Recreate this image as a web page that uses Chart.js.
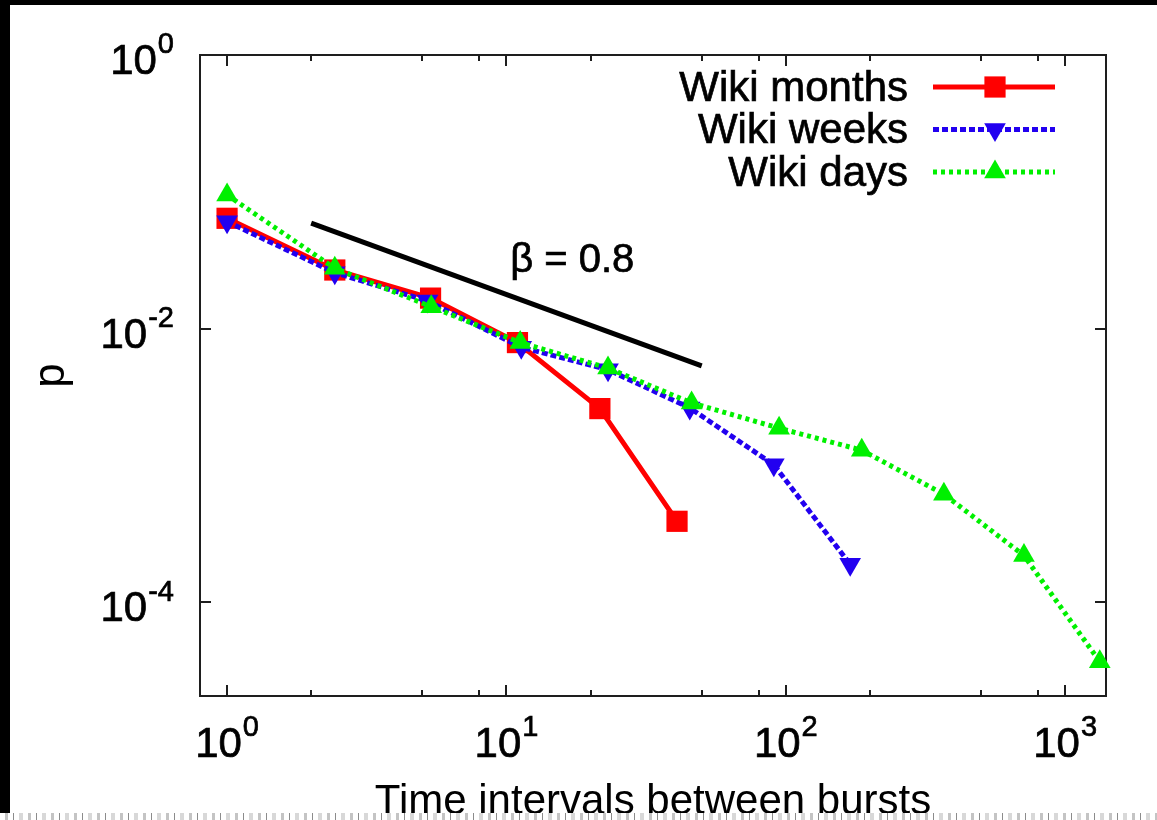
<!DOCTYPE html>
<html>
<head>
<meta charset="utf-8">
<title>Time intervals between bursts</title>
<script src="https://cdn.jsdelivr.net/npm/chart.js@4.4.1/dist/chart.umd.min.js"></script>
<style>
  html, body { margin: 0; padding: 0; background: #000; width: 1157px; height: 820px; overflow: hidden; }
  #frame { position: absolute; left: 10px; top: 5px; width: 1147px; height: 815px; background: #fff; overflow: hidden; }
  #frame canvas { display: block; }
  #scan {
    position: absolute; left: 0; top: 813px; width: 1157px; height: 7px;
    background: repeating-linear-gradient(90deg, #fff 0 5px, #c4c4c4 5px 8px, #fff 8px 13px, #8c8c8c 13px 14px, #fff 14px 19px, #d8d8d8 19px 23px);
  }
</style>
</head>
<body>
<div id="frame"><canvas id="burstChart" width="1147" height="840"></canvas></div>
<div id="scan"></div>
<script>
// Values (log-log plot)
const monthsX = [1, 2.43, 5.35, 10.95, 21.6, 40.8];
const monthsP = [0.064, 0.0268, 0.0167, 0.0079, 0.0026, 0.00039];

const weeksX = [1, 2.43, 5.22, 11.3, 23.1, 45.3, 90.6, 170];
const weeksP = [0.0605, 0.0256, 0.0159, 0.0073, 0.005, 0.00263, 0.00101, 0.000189];

const daysX = [1, 2.43, 5.38, 11.2, 23.1, 46, 94.6, 187, 368, 712, 1330];
const daysP = [0.0947, 0.0276, 0.01445, 0.0079, 0.00514, 0.00286, 0.00187, 0.00129, 0.000615, 0.000219, 0.0000367];

// reference slope line
const slopeX = [2, 50];
const slopeP = [0.0591, 0.00533];
const slopeText = "\u03b2 = 0.8";
const slopeTextAt = [17.2, 0.0328];

const seriesLabels = ["Wiki months", "Wiki weeks", "Wiki days"];

const xMajorTicks = [1, 10, 100, 1000];
const xMajorExp = ["0", "1", "2", "3"];
const xMinorTicks = [2, 5, 8, 20, 50, 80, 200, 500, 800];
const yMajorTicks = [1e-4, 1e-2, 1];
const yMajorExp = ["-4", "-2", "0"];

document.addEventListener("DOMContentLoaded", function () {
  const colors = {
    red: "#ff0000",
    blue: "#2200f0",
    green: "#00f000",
    black: "#000000",
    axis: "#1e1e1e",
  };
  const fontFamily = "'Liberation Sans', Arial, Helvetica, sans-serif";

  function toPoints(xs, ys) {
    return xs.map((x, i) => ({ x: x, y: ys[i] }));
  }

  // slightly heavier text, like the scanned gnuplot output
  function heavyText(ctx, text, x, y) {
    ctx.fillText(text, x, y);
    ctx.lineWidth = 0.7;
    ctx.strokeStyle = ctx.fillStyle;
    ctx.strokeText(text, x, y);
  }

  // "10" with a raised exponent, like gnuplot's enhanced text
  function drawPower(ctx, exp, x, midY, align) {
    const baseSize = 42, supSize = 29;
    ctx.font = baseSize + "px " + fontFamily;
    const wBase = ctx.measureText("10").width;
    ctx.font = supSize + "px " + fontFamily;
    const wExp = ctx.measureText(exp).width;
    const total = wBase + wExp + 1;
    const left = align === "center" ? x - total / 2 : x - total;
    ctx.textAlign = "left";
    ctx.textBaseline = "alphabetic";
    ctx.font = baseSize + "px " + fontFamily;
    heavyText(ctx, "10", left, midY + 0.358 * baseSize);
    ctx.font = supSize + "px " + fontFamily;
    heavyText(ctx, exp, left + wBase + 1, midY - 16 + 0.358 * supSize);
  }

  function drawMarker(ctx, style, rotation, r, x, y, color) {
    ctx.fillStyle = color;
    ctx.beginPath();
    if (style === "rect") {
      const h = r * Math.SQRT1_2;
      ctx.rect(x - h, y - h, 2 * h, 2 * h);
    } else {
      let rad = (rotation || 0) * Math.PI / 180;
      for (let k = 0; k < 3; k++) {
        const px = x + Math.sin(rad) * r;
        const py = y - Math.cos(rad) * r;
        if (k === 0) ctx.moveTo(px, py); else ctx.lineTo(px, py);
        rad += 2 * Math.PI / 3;
      }
      ctx.closePath();
    }
    ctx.fill();
  }

  const gnuplotFrame = {
    id: "gnuplotFrame",
    beforeDatasetsDraw(chart) {
      const { ctx, chartArea: a, scales: { x, y } } = chart;
      ctx.save();
      ctx.strokeStyle = colors.axis;
      ctx.lineWidth = 2;
      ctx.strokeRect(a.left, a.top, a.right - a.left, a.bottom - a.top);
      ctx.beginPath();
      x.ticks.forEach((t) => {
        const px = Math.round(x.getPixelForValue(t.value));
        const len = t.major ? 11 : 6;
        ctx.moveTo(px, a.bottom);
        ctx.lineTo(px, a.bottom - len);
        ctx.moveTo(px, a.top);
        ctx.lineTo(px, a.top + len);
      });
      y.ticks.forEach((t) => {
        const py = Math.round(y.getPixelForValue(t.value));
        ctx.moveTo(a.left, py);
        ctx.lineTo(a.left + 11, py);
        ctx.moveTo(a.right, py);
        ctx.lineTo(a.right - 11, py);
      });
      ctx.stroke();
      ctx.restore();
    },
    afterDraw(chart) {
      const { ctx, chartArea: a, scales: { x, y } } = chart;
      ctx.save();
      ctx.fillStyle = "#000";

      // tick labels
      xMajorTicks.forEach((v, i) => {
        drawPower(ctx, xMajorExp[i], x.getPixelForValue(v), a.bottom + 46, "center");
      });
      yMajorTicks.forEach((v, i) => {
        drawPower(ctx, yMajorExp[i], a.left - 26, y.getPixelForValue(v) + 4, "right");
      });

      // slope annotation
      ctx.font = "40px " + fontFamily;
      ctx.textAlign = "center";
      ctx.textBaseline = "alphabetic";
      heavyText(ctx, slopeText, x.getPixelForValue(slopeTextAt[0]), y.getPixelForValue(slopeTextAt[1]) + 0.358 * 40);

      // legend: text on the left, sample on the right
      const textRight = 898, lineStart = 923, lineEnd = 1045, markX = 985;
      chart.data.datasets.slice(0, 3).forEach((ds, i) => {
        const rowY = a.top + 32 + i * 42.5;
        ctx.fillStyle = "#000";
        ctx.font = "42px " + fontFamily;
        ctx.textAlign = "right";
        heavyText(ctx, ds.label, textRight, rowY - 1.5 + 0.358 * 42);
        ctx.strokeStyle = ds.borderColor;
        ctx.lineWidth = ds.borderWidth;
        ctx.setLineDash(ds.borderDash || []);
        ctx.beginPath();
        ctx.moveTo(lineStart, rowY);
        ctx.lineTo(lineEnd, rowY);
        ctx.stroke();
        ctx.setLineDash([]);
        drawMarker(ctx, ds.pointStyle, ds.pointRotation, ds.pointRadius, markX, rowY, ds.borderColor);
      });
      ctx.restore();
    },
  };

  const ctx = document.getElementById("burstChart");

  new Chart(ctx, {
    type: "line",
    data: {
      datasets: [
        {
          label: seriesLabels[0],
          data: toPoints(monthsX, monthsP),
          borderColor: colors.red,
          backgroundColor: colors.red,
          borderWidth: 5,
          pointStyle: "rect",
          pointRadius: 15,
          pointBorderWidth: 0,
          order: 3,
          clip: false,
        },
        {
          label: seriesLabels[1],
          data: toPoints(weeksX, weeksP),
          borderColor: colors.blue,
          backgroundColor: colors.blue,
          borderWidth: 5,
          borderDash: [6, 3],
          pointStyle: "triangle",
          pointRotation: 180,
          pointRadius: 12.5,
          pointBorderWidth: 0,
          order: 2,
          clip: false,
        },
        {
          label: seriesLabels[2],
          data: toPoints(daysX, daysP),
          borderColor: colors.green,
          backgroundColor: colors.green,
          borderWidth: 5,
          borderDash: [4, 4],
          pointStyle: "triangle",
          pointRadius: 12.5,
          pointBorderWidth: 0,
          order: 1,
          clip: false,
        },
        {
          label: "slope",
          data: toPoints(slopeX, slopeP),
          borderColor: colors.black,
          borderWidth: 5,
          pointRadius: 0,
          order: 4,
        },
      ],
    },
    options: {
      responsive: false,
      animation: false,
      events: [],
      layout: {
        padding: { left: 0, top: 50, right: 51, bottom: 0 },
      },
      elements: {
        line: { tension: 0, fill: false },
      },
      scales: {
        x: {
          type: "logarithmic",
          min: 0.8,
          max: 1400,
          grid: { display: false },
          border: { display: false },
          ticks: { display: false },
          afterBuildTicks: function (scale) {
            scale.ticks = xMajorTicks.map((v) => ({ value: v, major: true }))
              .concat(xMinorTicks.map((v) => ({ value: v, major: false })));
          },
          afterFit: function (scale) {
            scale.height = 149;
          },
          title: {
            display: true,
            text: "Time intervals between bursts",
            color: "#000",
            font: { family: fontFamily, size: 42 },
            padding: { top: 0, bottom: 17 },
          },
        },
        y: {
          type: "logarithmic",
          min: 2.06e-5,
          max: 1,
          grid: { display: false },
          border: { display: false },
          ticks: { display: false },
          afterBuildTicks: function (scale) {
            scale.ticks = yMajorTicks.map((v) => ({ value: v, major: true }));
          },
          afterFit: function (scale) {
            scale.width = 190;
          },
          title: {
            display: true,
            text: "p",
            color: "#000",
            font: { family: fontFamily, size: 44 },
            padding: { top: 15, bottom: 0 },
          },
        },
      },
      plugins: {
        legend: { display: false },
        tooltip: { enabled: false },
      },
    },
    plugins: [gnuplotFrame],
  });
});
</script>
</body>
</html>
